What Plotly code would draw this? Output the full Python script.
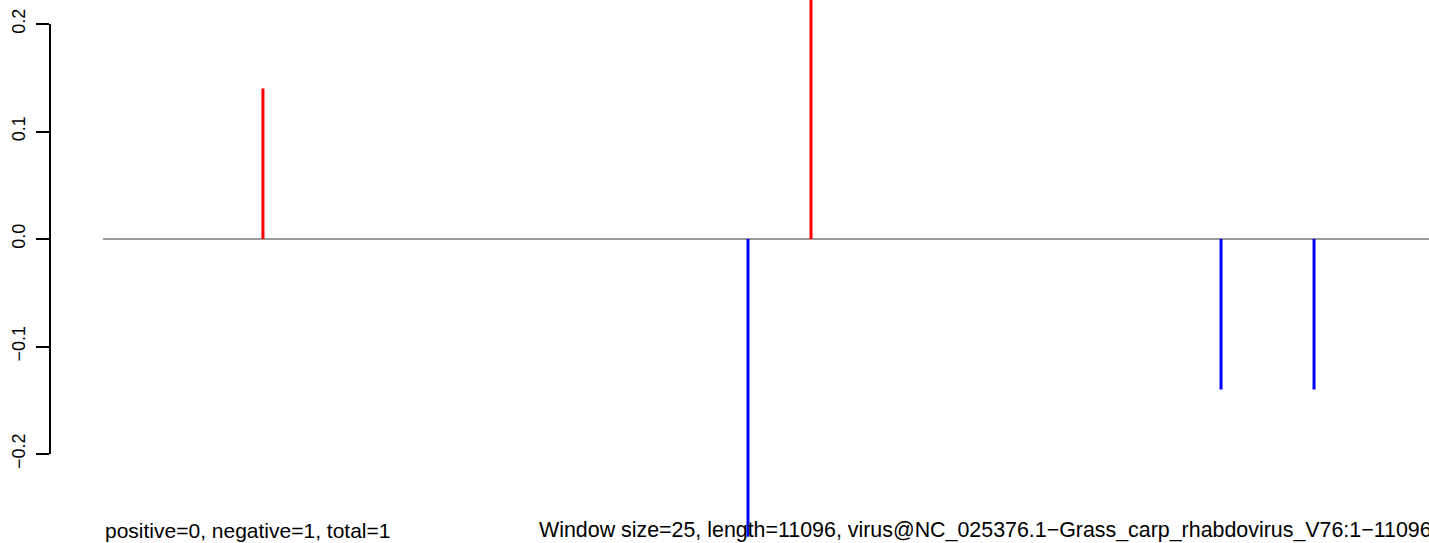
import plotly.graph_objects as go

# ---- data ----
genome_length = 11096
pos_positions = [1333, 5900]
pos_values = [0.14, 0.28]
neg_positions = [5375, 9317, 10092]
neg_values = [-0.277, -0.14, -0.14]
tick_values = [-0.2, -0.1, 0.0, 0.1, 0.2]
tick_labels = ["\u22120.2", "\u22120.1", "0.0", "0.1", "0.2"]
summary_text = "positive=0, negative=1, total=1"
info_text = "Window size=25, length=11096, virus@NC_025376.1\u2212Grass_carp_rhabdovirus_V76:1\u221211096"

W, H = 1429, 543
FONT = "Liberation Sans, Arial, Helvetica, sans-serif"


def stems(xs, vs):
    X, Y = [], []
    for x, v in zip(xs, vs):
        X += [x, x, None]
        Y += [0, v, None]
    return X, Y


fig = go.Figure()

# baseline
fig.add_trace(go.Scatter(x=[1, genome_length], y=[0, 0], mode="lines",
                         line=dict(color="#9a9a9a", width=2), hoverinfo="skip",
                         showlegend=False))

rx, ry = stems(pos_positions, pos_values)
fig.add_trace(go.Scatter(x=rx, y=ry, mode="lines", line=dict(color="#ff0000", width=3),
                         showlegend=False))
bx, by = stems(neg_positions, neg_values)
fig.add_trace(go.Scatter(x=bx, y=by, mode="lines", line=dict(color="#0000ff", width=3),
                         showlegend=False))

# invisible trace to carry the visible y axis
fig.add_trace(go.Scatter(x=[None], y=[None], yaxis="y2", showlegend=False,
                         hoverinfo="skip"))

# pixel mapping: y_px = 239 - 1075*v ; x_px = 103 + 0.12*pos
y_top = 239 / 1075
y_bot = -(H - 239) / 1075
x_left = -103 / 0.12
x_right = (W - 103) / 0.12

fig.update_layout(
    width=W, height=H, autosize=False,
    margin=dict(l=0, r=0, t=0, b=0, pad=0, autoexpand=False),
    paper_bgcolor="rgba(0,0,0,0)", plot_bgcolor="rgba(0,0,0,0)",
    showlegend=False,
    xaxis=dict(range=[x_left, x_right], visible=False, domain=[0, 1], automargin=False),
    yaxis=dict(range=[y_bot, y_top], visible=False, domain=[0, 1], automargin=False),
    yaxis2=dict(
        range=[-0.2, 0.2],
        domain=[(H - 454) / H, (H - 24) / H],
        anchor="free", position=50 / W, side="left", automargin=False,
        showline=True, linecolor="black", linewidth=1.5,
        ticks="outside", ticklen=13, tickwidth=1.5, tickcolor="black",
        tickvals=tick_values, ticktext=tick_labels, tickangle=-90,
        tickfont=dict(family=FONT, size=18, color="black"),
        showgrid=False, zeroline=False, ticklabelstandoff=4,
    ),
    annotations=[
        dict(text=summary_text, xref="paper", yref="paper", x=103 / W, y=(H - 530) / H,
             xanchor="left", yanchor="middle", showarrow=False,
             font=dict(family=FONT, size=21, color="black")),
        dict(text=info_text, xref="paper", yref="paper", x=537 / W, y=(H - 530) / H,
             xanchor="left", yanchor="middle", showarrow=False,
             font=dict(family=FONT, size=21.4, color="black")),
    ],
)

fig.write_html("out.html",
               config={"displayModeBar": False, "responsive": False},
               post_script="document.body.style.margin='0';document.body.style.overflow='hidden';")
